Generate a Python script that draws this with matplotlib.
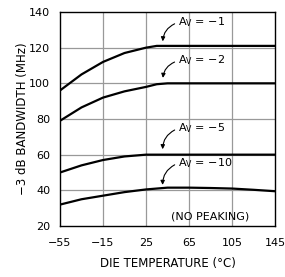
import matplotlib
matplotlib.use("Agg")
import matplotlib.pyplot as plt
import numpy as np

temps = [-55, -35, -15, 5, 25, 35, 45, 65, 85, 105, 125, 145]
av1 = [96, 105, 112, 117, 120, 121, 121, 121, 121, 121, 121, 121]
av2 = [79, 86.5, 92, 95.5, 98, 99.5, 100, 100, 100, 100, 100, 100]
av5 = [50, 54, 57, 59, 60, 60, 60, 60, 60, 60, 60, 60]
av10 = [32, 35, 37, 39, 40.5, 41, 41.5, 41.5, 41.3, 41, 40.3, 39.5]
xticks = [-55, -15, 25, 65, 105, 145]
yticks = [20, 40, 60, 80, 100, 120, 140]
labels = ["A$_\\mathregular{V}$ = \u22121", "A$_\\mathregular{V}$ = \u22122",
          "A$_\\mathregular{V}$ = \u22125", "A$_\\mathregular{V}$ = \u221210"]
label_pos = [(55, 134.5), (55, 113), (55, 75), (55, 55.5)]
arrow_tip = [(40.5, 122), (40.5, 101.5), (40.5, 61.5), (40.5, 41.5)]

plt.rcParams['font.family'] = ['DejaVu Sans']
fig = plt.figure(figsize=(2.85, 2.77), dpi=100)
ax = fig.add_axes([60/285, 1-226/277, 215/285, 214/277])

for v in xticks[1:-1]:
    ax.axvline(v, color='#999999', lw=0.9, zorder=1)
for v in yticks[1:-1]:
    ax.axhline(v, color='#999999', lw=0.9, zorder=1)

for s in [av1, av2, av5, av10]:
    ax.plot(temps, s, color='black', lw=1.6, zorder=3)

for lab, (lx, ly), (tx, ty) in zip(labels, label_pos, arrow_tip):
    ax.text(lx, ly, lab, fontsize=8, ha='left', va='center', zorder=4)
    ax.annotate('', xy=(tx, ty), xytext=(lx - 1, ly - 0.5),
                arrowprops=dict(arrowstyle='-|>', color='black', lw=0.8,
                                connectionstyle='arc3,rad=0.35',
                                mutation_scale=6), zorder=4)

ax.text(85, 25.5, "(NO PEAKING)", fontsize=8, ha='center', va='center')

ax.set_xlim(-55, 145)
ax.set_ylim(20, 140)
ax.set_xticks(xticks)
ax.set_yticks(yticks)
ax.set_xticklabels(["\u221255", "\u221215", "25", "65", "105", "145"])
ax.tick_params(length=0, labelsize=8, pad=7)
ax.tick_params(axis='x', pad=9)
for sp in ax.spines.values():
    sp.set_linewidth(1.0)
ax.set_xlabel("DIE TEMPERATURE (\u00b0C)", fontsize=8.5, labelpad=6)
ax.set_ylabel("\u22123 dB BANDWIDTH (MHz)", fontsize=8.5, labelpad=0)

fig.savefig("out.png", dpi=100)
